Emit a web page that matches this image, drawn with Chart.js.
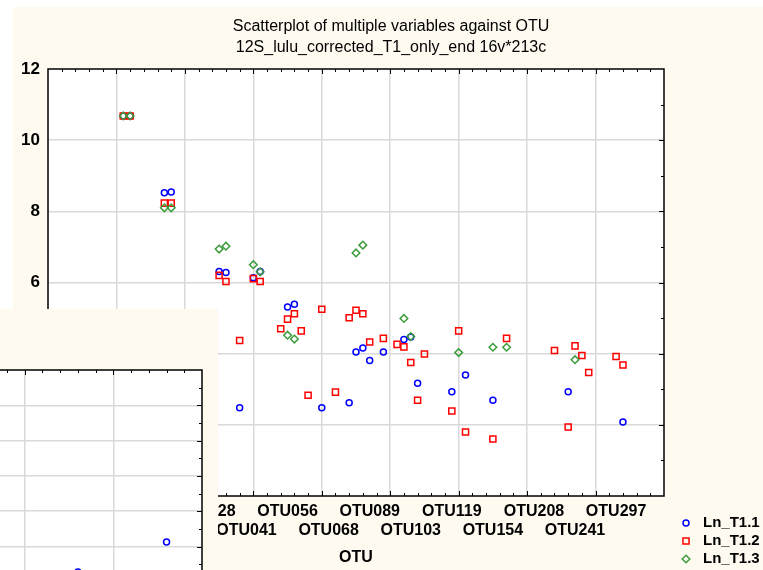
<!DOCTYPE html>
<html><head><meta charset="utf-8">
<script src="https://cdn.jsdelivr.net/npm/chart.js@4"></script>
<style>
html,body{margin:0;padding:0;background:#fff;}
#wrap{position:relative;width:763px;height:570px;overflow:hidden;}
#main{position:absolute;left:0;top:0;}
#inset{position:absolute;left:0;top:309px;width:218px;height:261px;background:#FFFAF0;overflow:hidden;}
#insetCanvas{position:absolute;left:-158px;top:0;}
</style></head><body>
<div id="wrap">
<canvas id="main" width="763" height="570"></canvas>
<div id="inset"><canvas id="insetCanvas" width="376" height="400"></canvas></div>
</div>
<script>
// ---- data ----
const titleLines = ['Scatterplot of multiple variables against OTU', '12S_lulu_corrected_T1_only_end 16v*213c'];
const xTitle = 'OTU';
const seriesNames = ['Ln_T1.1', 'Ln_T1.2', 'Ln_T1.3'];
const otuPos = [11,12,17,18,25,26,28,30,31,34,35,36,37,38,40,42,44,45,46,47,49,51,52,53,54,55,59,60,61,65,67,74,76,77,78,79,83,84];
const lnT11 = [10.68,10.68,8.52,8.54,6.31,6.28,2.48,6.13,6.31,null,5.31,5.39,null,null,2.48,null,2.62,4.05,4.16,3.81,4.05,null,4.40,4.47,3.17,null,2.93,null,3.40,2.69,null,null,2.93,null,null,null,null,2.08];
const lnT12 = [10.68,10.68,8.23,8.23,6.20,6.03,4.37,6.11,6.03,4.70,4.97,5.12,4.64,2.83,5.25,2.92,5.01,5.22,5.12,4.33,4.43,4.26,4.19,3.75,2.69,3.99,2.39,4.64,1.80,1.60,4.43,4.09,1.94,4.22,3.95,3.47,3.92,3.68];
const lnT13 = [10.68,10.68,8.10,8.10,6.94,7.02,null,6.50,6.30,null,4.52,4.41,null,null,null,null,null,6.83,7.05,null,null,null,4.99,4.48,null,null,null,4.03,null,4.18,4.18,null,null,3.83,null,null,null,null];
const tickPos = [23,29,35,41,47,53,59,65,71,77,83];
const tickLabels = ['OTU028','OTU041','OTU056','OTU068','OTU089','OTU103','OTU119','OTU154','OTU208','OTU241','OTU297'];
const yTicks = [0,2,4,6,8,10,12];
// inset (overlapping window)
const insetPos = [18, 23];
const insetT11 = [6.28, 7.13];

// ---- styles ----
const CREAM = '#FFFAF0';
const GRID = '#D9D9D9';
const FONT = '"Liberation Sans", Arial, sans-serif';
const CLEAR = 'rgba(0,0,0,0)';
const colors = ['#0000FF', '#FF0000', '#3C9C3C'];
const styles = ['circle', 'rect', 'rectRot'];
const radii = [3, 4.3, 3.8];

function pts(vals){ return otuPos.map((x,i)=>({x, y: vals[i]})).filter(p=>p.y!==null); }

function marker(ctx, style, x, y, r){
  ctx.beginPath();
  if (style==='circle') ctx.arc(x,y,r,0,Math.PI*2);
  else if (style==='rect'){ const s=r*Math.SQRT1_2; ctx.rect(x-s,y-s,2*s,2*s); }
  else { ctx.moveTo(x-r,y); ctx.lineTo(x,y-r); ctx.lineTo(x+r,y); ctx.lineTo(x,y+r); ctx.closePath(); }
  ctx.stroke();
}

const mainBg = {
  id:'mainBg',
  beforeDraw(chart){
    const {ctx, chartArea:a} = chart;
    ctx.save();
    ctx.fillStyle='#fff'; ctx.fillRect(0,0,chart.width,chart.height);
    ctx.fillStyle=CREAM; ctx.fillRect(13,7,chart.width-13,chart.height-7);
    ctx.fillStyle='#fff'; ctx.fillRect(a.left,a.top,a.right-a.left,a.bottom-a.top);
    ctx.restore();
  }
};
const mainFrame = {
  id:'mainFrame',
  afterDraw(chart){
    const {ctx, chartArea:a, scales:{x,y}} = chart;
    ctx.save();
    ctx.strokeStyle='#000'; ctx.lineWidth=1;
    ctx.beginPath();
    for (let v=2; v<90; v+=2){
      const px=Math.round(x.getPixelForValue(v))+0.5;
      const len = v%10===0?5:3;
      ctx.moveTo(px,a.top); ctx.lineTo(px,a.top+len);
      ctx.moveTo(px,a.bottom); ctx.lineTo(px,a.bottom-len);
    }
    for (let v=1; v<12; v++){
      const py=Math.round(y.getPixelForValue(v))+0.5;
      const len = v%2===0?5:3;
      ctx.moveTo(a.right,py); ctx.lineTo(a.right-len,py);
    }
    ctx.stroke();
    ctx.lineWidth=1.5;
    ctx.strokeRect(a.left,a.top,a.right-a.left,a.bottom-a.top);
    // title
    ctx.fillStyle='#000'; ctx.textAlign='center'; ctx.textBaseline='middle';
    ctx.font='16px '+FONT;
    ctx.fillText(titleLines[0],391,27);
    ctx.fillText(titleLines[1],391,48);
    // legend
    ctx.textAlign='left'; ctx.font='bold 15px '+FONT;
    chart.data.datasets.forEach((ds,i)=>{
      const yy = 523 + i*18;
      ctx.strokeStyle=ds.borderColor; ctx.lineWidth=1.5;
      marker(ctx, ds.pointStyle, 686, yy, ds.pointStyle==='rect'?4.3:(ds.pointStyle==='circle'?3:3.8));
      ctx.fillStyle='#000';
      ctx.fillText(ds.label, 703, yy);
    });
    ctx.restore();
  }
};

const datasets = [lnT11, lnT12, lnT13].map((vals,i)=>({
  label: seriesNames[i], data: pts(vals), pointStyle: styles[i], pointRadius: radii[i],
  borderColor: colors[i], backgroundColor: CLEAR, pointBorderWidth: 1.5, borderWidth: 1.5,
  order: 3-i, showLine: false
}));

new Chart(document.getElementById('main'), {
  type:'scatter',
  data:{datasets},
  options:{
    responsive:false, animation:false,
    layout:{padding:{left:0, top:69, right:99, bottom:0}},
    plugins:{legend:{display:false}, tooltip:{enabled:false}, title:{display:false}},
    scales:{
      x:{type:'linear', min:0, max:90,
        afterFit(s){ s.height=74; },
        border:{display:false},
        grid:{drawTicks:false, lineWidth:1.5,
          color:c=>(c.tick && c.tick.value%10===0 && c.tick.value>0 && c.tick.value<90)?GRID:CLEAR},
        ticks:{stepSize:1, autoSkip:false, maxRotation:0, minRotation:0, padding:6.5, color:'#000',
          font:{family:FONT, size:16, weight:'bold', lineHeight:1.15},
          callback(v){ const i=tickPos.indexOf(v); if(i<0) return ''; return i%2===0?[tickLabels[i],'']:['',tickLabels[i]]; }},
        title:{display:true, text:xTitle, color:'#000', font:{family:FONT, size:16, weight:'bold', lineHeight:1.15}, padding:{top:3,bottom:3}}
      },
      y:{type:'linear', min:0, max:12,
        afterFit(s){ s.width=48; },
        afterBuildTicks(s){ s.ticks = yTicks.map(v=>({value:v})); },
        border:{display:false},
        grid:{drawTicks:false, lineWidth:1.5,
          color:c=>(c.tick && c.tick.value>0 && c.tick.value<12)?GRID:CLEAR},
        ticks:{padding:8, color:'#000', font:{family:FONT, size:17, weight:'bold'}}
      }
    }
  },
  plugins:[mainBg, mainFrame]
});

// ---- inset (overlapping window at lower left) ----
const insetBg = {
  id:'insetBg',
  beforeDraw(chart){
    const {ctx, chartArea:a} = chart;
    ctx.save();
    ctx.fillStyle=CREAM; ctx.fillRect(0,0,chart.width,chart.height);
    ctx.fillStyle='#fff'; ctx.fillRect(a.left,a.top,a.right-a.left,a.bottom-a.top);
    ctx.restore();
  }
};
const insetFrame = {
  id:'insetFrame',
  afterDraw(chart){
    const {ctx, chartArea:a, scales:{x,y}} = chart;
    ctx.save();
    ctx.strokeStyle='#000'; ctx.lineWidth=1;
    ctx.beginPath();
    for (let v=6; v<25; v++){
      const px=Math.round(x.getPixelForValue(v))+0.5;
      const len=v%5===0?5:3;
      ctx.moveTo(px,a.top); ctx.lineTo(px,a.top+len);
    }
    for (let v=5.5; v<12; v+=0.5){
      const py=Math.round(y.getPixelForValue(v))+0.5;
      const len=Number.isInteger(v)?5:3;
      ctx.moveTo(a.right,py); ctx.lineTo(a.right-len,py);
    }
    ctx.stroke();
    ctx.lineWidth=1.5;
    ctx.strokeRect(a.left,a.top,a.right-a.left,a.bottom-a.top);
    ctx.restore();
  }
};
new Chart(document.getElementById('insetCanvas'), {
  type:'scatter',
  data:{datasets:[{label:seriesNames[0], data: insetPos.map((x,i)=>({x, y:insetT11[i]})),
    pointStyle:'circle', pointRadius:3, borderColor:colors[0], backgroundColor:CLEAR, pointBorderWidth:1.5}]},
  options:{
    responsive:false, animation:false,
    layout:{padding:{left:0, top:61, right:16, bottom:91.9}},
    plugins:{legend:{display:false}, tooltip:{enabled:false}},
    scales:{
      x:{type:'linear', position:'top', min:5, max:25, afterFit(s){ s.height=0; },
        border:{display:false},
        ticks:{display:false, stepSize:5},
        grid:{drawTicks:false, lineWidth:1.5, color:c=>(c.tick && c.tick.value>5 && c.tick.value<25)?GRID:CLEAR}},
      y:{type:'linear', position:'right', min:5, max:12, afterFit(s){ s.width=0; },
        border:{display:false},
        ticks:{display:false, stepSize:1},
        grid:{drawTicks:false, lineWidth:1.5, color:c=>(c.tick && c.tick.value>5 && c.tick.value<12)?GRID:CLEAR}}
    }
  },
  plugins:[insetBg, insetFrame]
});
</script>
</body></html>
